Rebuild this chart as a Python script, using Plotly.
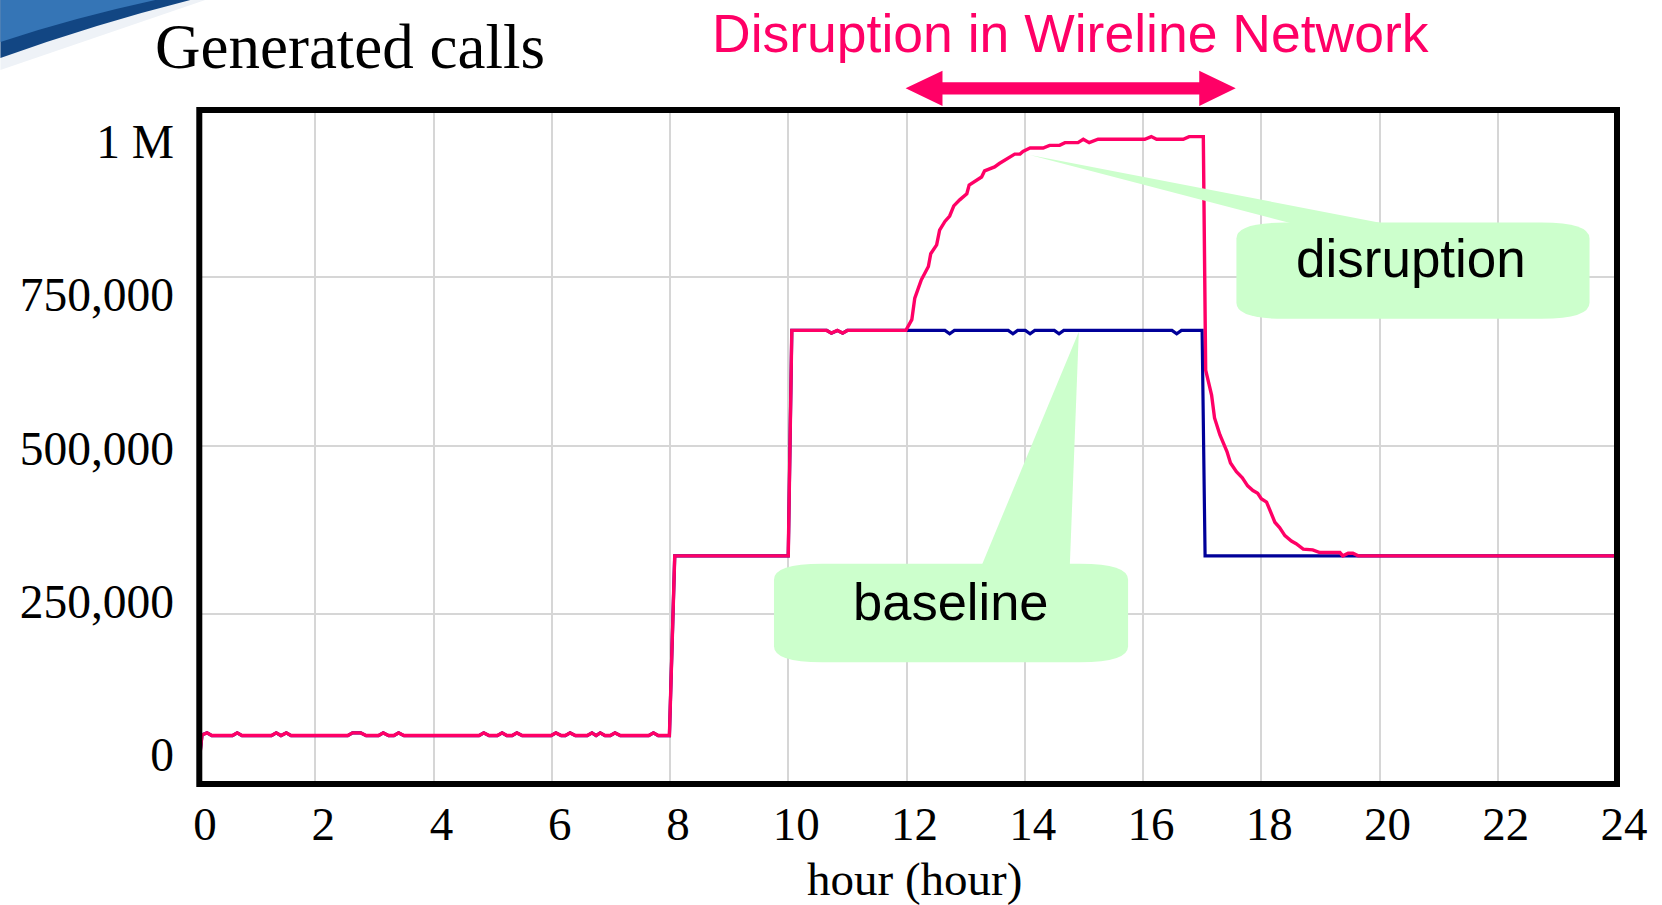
import plotly.graph_objects as go

# ---------------- data ----------------
# shared part of both runs (0 h .. 12 h): night level, morning and midday steps
common_hours = [0.00, 0.085, 0.17, 0.25, 0.60, 0.68, 0.76, 1.26, 1.34, 1.42, 1.51, 1.59,
                2.55, 2.63, 2.77, 2.86, 3.07, 3.15, 3.24, 3.33, 3.41, 3.50, 4.77, 4.85, 4.94,
                5.08, 5.16, 5.24, 5.33, 5.41, 5.50, 5.99, 6.07, 6.16, 6.23, 6.31, 6.40,
                6.60, 6.68, 6.75, 6.82, 6.90, 6.99, 7.07, 7.16, 7.64, 7.72, 7.80, 7.99,
                8.08, 10.00, 10.06, 10.65, 10.73, 10.83, 10.92, 11.00, 11.99]
common_calls = [0, 70000, 73000, 69000, 69000, 73000, 69000, 69000, 73000, 69000, 73000, 69000,
                69000, 73000, 73000, 69000, 69000, 73000, 69000, 69000, 73000, 69000, 69000, 73000, 69000,
                69000, 73000, 69000, 69000, 73000, 69000, 69000, 73000, 69000, 69000, 73000, 69000,
                69000, 73000, 69000, 73000, 69000, 69000, 73000, 69000, 69000, 73000, 69000, 69000,
                336000, 336000, 671000, 671000, 667000, 671000, 667000, 671000, 671000]

# baseline run after 12 h
baseline_hours = [12.65, 12.73, 12.81, 13.72, 13.80, 13.88, 14.01, 14.09, 14.17, 14.50, 14.58,
                  14.66, 16.49, 16.57, 16.65, 17.00, 17.05, 24.00]
baseline_calls = [671000, 666000, 671000, 671000, 666000, 671000, 671000, 666000, 671000, 671000,
                  666000, 671000, 671000, 666000, 671000, 671000, 336000, 336000]

# disruption run after 12 h
disruption_hours = [12.09, 12.14, 12.25, 12.37, 12.41, 12.51, 12.56, 12.65, 12.73, 12.80, 12.90,
                    13.02, 13.06, 13.21, 13.27, 13.32, 13.49, 13.57, 13.66, 13.75, 13.83, 13.92,
                    13.97, 14.09, 14.31, 14.42, 14.59, 14.68, 14.90, 14.99, 15.09, 15.24, 16.03,
                    16.14, 16.23, 16.68, 16.78, 17.02, 17.06, 17.16, 17.21, 17.30, 17.42, 17.48,
                    17.58, 17.68, 17.77, 17.86, 17.94, 18.00, 18.09, 18.23, 18.31, 18.40, 18.51,
                    18.59, 18.71, 18.87, 18.99, 19.33, 19.38, 19.47, 19.55, 19.64, 24.00]
disruption_calls = [687000, 719000, 746000, 766000, 785000, 798000, 820000, 833000, 841000, 856000,
                    865000, 874000, 887000, 895000, 899000, 908000, 914000, 919000, 924000, 930000,
                    933000, 933000, 937000, 942000, 942000, 946000, 946000, 950000, 950000, 955000,
                    950000, 955000, 955000, 959000, 955000, 955000, 959000, 959000, 612000, 575000,
                    541000, 516000, 491000, 474000, 461000, 452000, 440000, 433000, 429000, 421000,
                    416000, 386000, 378000, 366000, 358000, 354000, 346000, 345000, 341000, 341000,
                    336000, 340000, 340000, 336000, 336000]

x_ticks = [0, 2, 4, 6, 8, 10, 12, 14, 16, 18, 20, 22, 24]
y_ticks = [0, 250000, 500000, 750000, 1000000]
y_tick_labels = ["0", "250,000", "500,000", "750,000", "1 M"]

title_text = "Generated calls"
banner_text = "Disruption in Wireline Network"
x_title = "hour (hour)"
label_disruption = "disruption"
label_baseline = "baseline"

# ---------------- layout geometry (pixels) ----------------
W, H = 1662, 905
L, R, T, B = 196.7, 1616.5, 109.0, 782.5

def fx(p):
    return (p - L) / (R - L)

def fy(p):
    return (B - p) / (B - T)

PINK = "#FF0066"
NAVY = "#000099"
GREEN = "#CCFFCC"
SERIF = "Liberation Serif"
SANS = "Liberation Sans"

baseline_x = common_hours + baseline_hours
baseline_y = common_calls + baseline_calls
disruption_x = common_hours + disruption_hours
disruption_y = common_calls + disruption_calls

fig = go.Figure()
fig.add_trace(go.Scatter(x=baseline_x, y=baseline_y, mode="lines", name="baseline",
                         line=dict(color=NAVY, width=3.2), hoverinfo="skip", showlegend=False))
fig.add_trace(go.Scatter(x=disruption_x, y=disruption_y, mode="lines", name="disruption",
                         line=dict(color=PINK, width=3.4), hoverinfo="skip", showlegend=False))
# invisible trace carrying the label axis
fig.add_trace(go.Scatter(x=baseline_x, y=baseline_y, mode="lines", yaxis="y2",
                         line=dict(width=0), opacity=0, hoverinfo="skip", showlegend=False))


def rounded_box(l, t, r, b, rx, ry):
    pts = [
        ("M", (l + rx, t)), ("L", (r - rx, t)), ("Q", (r, t), (r, t + ry)),
        ("L", (r, b - ry)), ("Q", (r, b), (r - rx, b)), ("L", (l + rx, b)),
        ("Q", (l, b), (l, b - ry)), ("L", (l, t + ry)), ("Q", (l, t), (l + rx, t)),
    ]
    s = ""
    for item in pts:
        cmd = item[0]
        coords = " ".join(f"{fx(p[0]):.5f},{fy(p[1]):.5f}" for p in item[1:])
        s += f"{cmd} {coords} "
    return s + "Z"


def poly(points):
    s = "M " + " L ".join(f"{fx(x):.5f},{fy(y):.5f}" for x, y in points)
    return s + " Z"


def qpath(start, segs):
    s = f"M {fx(start[0]):.5f},{fy(start[1]):.5f} "
    for seg in segs:
        if len(seg) == 2 and isinstance(seg[0], (int, float)):
            s += f"L {fx(seg[0]):.5f},{fy(seg[1]):.5f} "
        else:
            c, e = seg
            s += f"Q {fx(c[0]):.5f},{fy(c[1]):.5f} {fx(e[0]):.5f},{fy(e[1]):.5f} "
    return s + "Z"


shapes = []
# decorative swoosh top-left
shapes.append(dict(type="path", xref="paper", yref="paper", layer="above",
                   path=poly([(0, 0), (205, 0), (0, 70)]),
                   fillcolor="#eef2f7", line=dict(width=0)))
shapes.append(dict(type="path", xref="paper", yref="paper", layer="above",
                   path=qpath((0, 0), [(190, 0), ((95, 24), (0, 58))]),
                   fillcolor="#124683", line=dict(width=0)))
shapes.append(dict(type="path", xref="paper", yref="paper", layer="above",
                   path=qpath((0, 0), [(155, 0), ((72, 18), (0, 42))]),
                   fillcolor="#3575b6", line=dict(width=0)))

# double headed arrow above the plot
shapes.append(dict(type="path", xref="paper", yref="paper", layer="above",
                   path=poly([(905.7, 88.3), (942.6, 70.6), (942.6, 82.2), (1199.5, 82.2),
                              (1199.5, 70.6), (1236.0, 88.3), (1199.5, 106.0), (1199.5, 94.4),
                              (942.6, 94.4), (942.6, 106.0)]),
                   fillcolor=PINK, line=dict(width=0)))

# callouts
shapes.append(dict(type="path", xref="paper", yref="paper", layer="above",
                   path=poly([(1030, 155), (1298, 225), (1392, 225)]),
                   fillcolor=GREEN, line=dict(width=0)))
shapes.append(dict(type="path", xref="paper", yref="paper", layer="above",
                   path=rounded_box(1236.7, 222.7, 1590, 319, 48, 16),
                   fillcolor=GREEN, line=dict(width=0)))
shapes.append(dict(type="path", xref="paper", yref="paper", layer="above",
                   path=poly([(1079, 332), (981.7, 566), (1070, 566)]),
                   fillcolor=GREEN, line=dict(width=0)))
shapes.append(dict(type="path", xref="paper", yref="paper", layer="above",
                   path=rounded_box(774, 564, 1128.3, 662.7, 48, 16),
                   fillcolor=GREEN, line=dict(width=0)))

# plot frame
shapes.append(dict(type="rect", xref="paper", yref="paper", layer="above",
                   x0=fx(199), x1=fx(1617.5), y0=fy(784.5), y1=fy(110),
                   line=dict(color="black", width=6), fillcolor="rgba(0,0,0,0)"))

annotations = [
    dict(text=title_text, x=fx(350), y=fy(47), xref="paper", yref="paper",
         showarrow=False, xanchor="center", yanchor="middle",
         font=dict(family=SERIF, size=63, color="black")),
    dict(text=banner_text, x=fx(1070.7), y=fy(33), xref="paper", yref="paper",
         showarrow=False, xanchor="center", yanchor="middle",
         font=dict(family=SANS, size=53.5, color=PINK)),
    dict(text=label_disruption, x=fx(1411.7), y=fy(259), xref="paper", yref="paper",
         showarrow=False, xanchor="center", yanchor="middle",
         font=dict(family=SANS, size=53, color="black")),
    dict(text=label_baseline, x=fx(950.8), y=fy(602), xref="paper", yref="paper",
         showarrow=False, xanchor="center", yanchor="middle",
         font=dict(family=SANS, size=52.5, color="black")),
    dict(text=x_title, x=fx(915), y=fy(880), xref="paper", yref="paper",
         showarrow=False, xanchor="center", yanchor="middle",
         font=dict(family=SERIF, size=47, color="black")),
]

fig.update_layout(
    width=W, height=H,
    margin=dict(l=L, r=W - R, t=T, b=H - B, autoexpand=False),
    paper_bgcolor="white", plot_bgcolor="white",
    showlegend=False,
    shapes=shapes,
    annotations=annotations,
    xaxis=dict(range=[0, 24], tickmode="array", tickvals=x_ticks,
               ticktext=[str(v) for v in x_ticks],
               showgrid=True, gridcolor="#d6d6d6", gridwidth=1.5,
               zeroline=False, showline=False, ticks="",
               tickfont=dict(family=SERIF, size=47, color="black"),
               ticklabelshift=8, ticklabelstandoff=10, fixedrange=True),
    yaxis=dict(range=[0, 1000000], tickmode="array", tickvals=y_ticks,
               showticklabels=False, showgrid=True, gridcolor="#d6d6d6", gridwidth=1.5,
               zeroline=False, showline=False, ticks="", fixedrange=True),
    yaxis2=dict(overlaying="y", side="left", range=[-45522, 1053353],
                tickmode="array", tickvals=y_ticks, ticktext=y_tick_labels,
                showgrid=False, zeroline=False, showline=False, ticks="",
                tickfont=dict(family=SERIF, size=47.5, color="black"),
                ticklabelstandoff=22, fixedrange=True),
)

fig.write_html("out.html", config={"displayModeBar": False})
